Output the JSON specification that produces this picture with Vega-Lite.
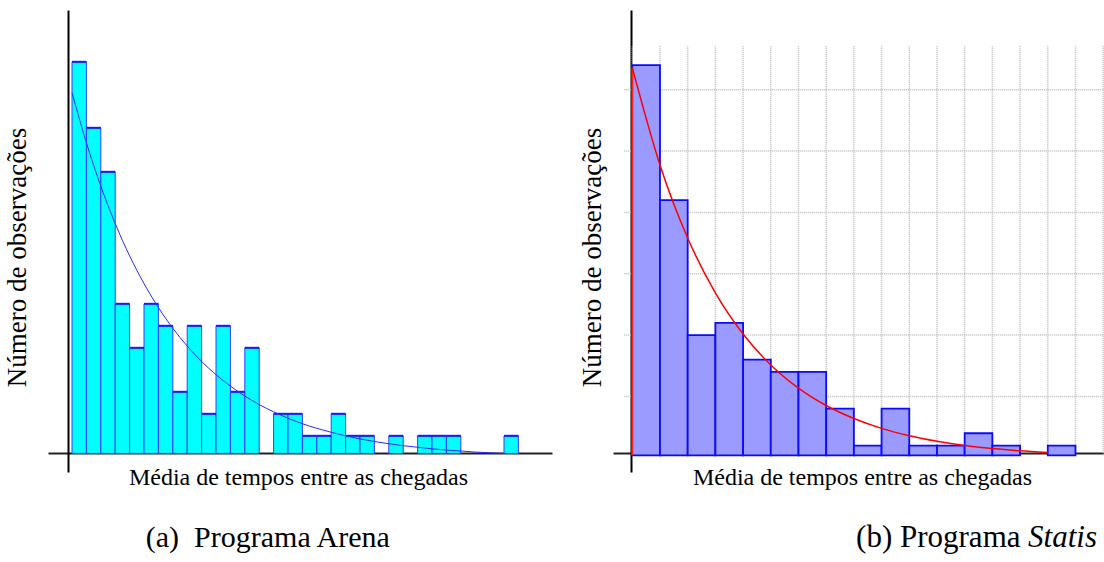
{
  "$schema": "https://vega.github.io/schema/vega-lite/v6.json",
  "background": "white",
  "padding": {"left": 3, "top": 10, "right": 0, "bottom": 0},
  "spacing": 61,
  "bounds": "flush",
  "config": {
    "view": {"stroke": null},
    "text": {"font": "Liberation Serif"}
  },
  "datasets": {
    "arena": [
      {"x0": 0, "x1": 1, "count": 18}, {"x0": 1, "x1": 2, "count": 15}, {"x0": 2, "x1": 3, "count": 13},
      {"x0": 3, "x1": 4, "count": 7}, {"x0": 4, "x1": 5, "count": 5}, {"x0": 5, "x1": 6, "count": 7},
      {"x0": 6, "x1": 7, "count": 6}, {"x0": 7, "x1": 8, "count": 3}, {"x0": 8, "x1": 9, "count": 6},
      {"x0": 9, "x1": 10, "count": 2}, {"x0": 10, "x1": 11, "count": 6}, {"x0": 11, "x1": 12, "count": 3},
      {"x0": 12, "x1": 13, "count": 5}, {"x0": 13, "x1": 14, "count": 0}, {"x0": 14, "x1": 15, "count": 2},
      {"x0": 15, "x1": 16, "count": 2}, {"x0": 16, "x1": 17, "count": 1}, {"x0": 17, "x1": 18, "count": 1},
      {"x0": 18, "x1": 19, "count": 2}, {"x0": 19, "x1": 20, "count": 1}, {"x0": 20, "x1": 21, "count": 1},
      {"x0": 21, "x1": 22, "count": 0}, {"x0": 22, "x1": 23, "count": 1}, {"x0": 23, "x1": 24, "count": 0},
      {"x0": 24, "x1": 25, "count": 1}, {"x0": 25, "x1": 26, "count": 1}, {"x0": 26, "x1": 27, "count": 1},
      {"x0": 27, "x1": 28, "count": 0}, {"x0": 28, "x1": 29, "count": 0}, {"x0": 29, "x1": 30, "count": 0},
      {"x0": 30, "x1": 31, "count": 1}
    ],
    "arenaFit": [
      {"n": 0, "c": 16.6}, {"n": 1, "c": 14.32}, {"n": 2, "c": 12.35}, {"n": 3, "c": 10.65},
      {"n": 4, "c": 9.18}, {"n": 5, "c": 7.92}, {"n": 6, "c": 6.83}, {"n": 7, "c": 5.89},
      {"n": 8, "c": 5.08}, {"n": 9, "c": 4.38}, {"n": 10, "c": 3.78}, {"n": 11, "c": 3.26},
      {"n": 12, "c": 2.81}, {"n": 13, "c": 2.42}, {"n": 14, "c": 2.09}, {"n": 15, "c": 1.8},
      {"n": 16, "c": 1.55}, {"n": 17, "c": 1.34}, {"n": 18, "c": 1.16}, {"n": 19, "c": 1.0},
      {"n": 20, "c": 0.86}, {"n": 21, "c": 0.74}, {"n": 22, "c": 0.64}, {"n": 23, "c": 0.55},
      {"n": 24, "c": 0.48}, {"n": 25, "c": 0.41}, {"n": 26, "c": 0.35}, {"n": 27, "c": 0.31},
      {"n": 28, "c": 0.26}, {"n": 29, "c": 0.23}, {"n": 30, "c": 0.2}
    ],
    "statis": [
      {"x0": 0, "x1": 1, "count": 32}, {"x0": 1, "x1": 2, "count": 21}, {"x0": 2, "x1": 3, "count": 10},
      {"x0": 3, "x1": 4, "count": 11}, {"x0": 4, "x1": 5, "count": 8}, {"x0": 5, "x1": 6, "count": 7},
      {"x0": 6, "x1": 7, "count": 7}, {"x0": 7, "x1": 8, "count": 4}, {"x0": 8, "x1": 9, "count": 1},
      {"x0": 9, "x1": 10, "count": 4}, {"x0": 10, "x1": 11, "count": 1}, {"x0": 11, "x1": 12, "count": 1},
      {"x0": 12, "x1": 13, "count": 2}, {"x0": 13, "x1": 14, "count": 1}, {"x0": 14, "x1": 15, "count": 0},
      {"x0": 15, "x1": 16, "count": 1}
    ],
    "statisFit": [
      {"n": 0, "c": 31.8}, {"n": 1, "c": 23.87}, {"n": 2, "c": 17.91}, {"n": 3, "c": 13.44},
      {"n": 4, "c": 10.09}, {"n": 5, "c": 7.57}, {"n": 6, "c": 5.68}, {"n": 7, "c": 4.26},
      {"n": 8, "c": 3.2}, {"n": 9, "c": 2.4}, {"n": 10, "c": 1.8}, {"n": 11, "c": 1.35},
      {"n": 12, "c": 1.01}, {"n": 13, "c": 0.76}, {"n": 14, "c": 0.57}, {"n": 15, "c": 0.43}
    ],
    "gridX": [
      {"v": 0}, {"v": 1}, {"v": 2}, {"v": 3}, {"v": 4}, {"v": 5}, {"v": 6}, {"v": 7}, {"v": 8},
      {"v": 9}, {"v": 10}, {"v": 11}, {"v": 12}, {"v": 13}, {"v": 14}, {"v": 15}, {"v": 16}, {"v": 17}
    ],
    "gridY": [{"v": 5}, {"v": 10}, {"v": 15}, {"v": 20}, {"v": 25}, {"v": 30}]
  },
  "hconcat": [
    {
      "width": 504,
      "height": 462,
      "layer": [
        {
          "data": {"name": "arena"},
          "transform": [{"filter": "datum.count > 0"}],
          "mark": {"type": "rect", "fill": "#00ffff", "stroke": "#3a3aff", "strokeWidth": 1},
          "encoding": {
            "x": {
              "field": "x0", "type": "quantitative",
              "scale": {"domain": [-1.667, 33.333], "nice": false, "zero": false},
              "axis": {
                "title": "Média de tempos entre as chegadas",
                "offset": -19,
                "ticks": false,
                "labels": false,
                "grid": false,
                "domainColor": "#222222",
                "domainWidth": 2,
                "titleFont": "Liberation Serif",
                "titleFontWeight": "normal",
                "titleColor": "#000000",
                "titleFontSize": 24,
                "titlePadding": 12,
                "titleX": 250
              }
            },
            "x2": {"field": "x1"},
            "y": {
              "field": "count", "type": "quantitative",
              "scale": {"domain": [-0.645, 20.355], "nice": false, "zero": false},
              "axis": {
                "title": "Número de observações",
                "offset": -20,
                "ticks": false,
                "labels": false,
                "grid": false,
                "domainColor": "#000000",
                "domainWidth": 2,
                "titleFont": "Liberation Serif",
                "titleFontWeight": "normal",
                "titleColor": "#000000",
                "titleFontSize": 27,
                "titlePadding": 37,
                "titleY": 247
              }
            },
            "y2": {"datum": 0.2}
          }
        },
        {
          "data": {"name": "arena"},
          "transform": [{"filter": "datum.count > 0"}],
          "mark": {"type": "rule", "stroke": "#1818ff", "strokeWidth": 2},
          "encoding": {
            "x": {"field": "x0", "type": "quantitative"},
            "x2": {"field": "x1"},
            "y": {"field": "count", "type": "quantitative"}
          }
        },
        {
          "data": {"name": "arenaFit"},
          "mark": {"type": "line", "stroke": "#2a2aff", "strokeWidth": 1, "interpolate": "monotone"},
          "encoding": {
            "x": {"field": "n", "type": "quantitative"},
            "y": {"field": "c", "type": "quantitative"}
          }
        },
        {
          "data": {"values": [{"label": "(a)\u00a0 Programa Arena"}]},
          "mark": {"type": "text", "font": "Liberation Serif", "fontSize": 30, "align": "center", "baseline": "alphabetic", "color": "#000000"},
          "encoding": {
            "x": {"datum": 13.6, "type": "quantitative"},
            "y": {"datum": -4.05, "type": "quantitative"},
            "text": {"field": "label"}
          }
        }
      ]
    },
    {
      "width": 491,
      "height": 462,
      "layer": [
        {
          "data": {"name": "gridY"},
          "mark": {"type": "rule", "stroke": "#bdbdbd", "strokeWidth": 1.5, "strokeDash": [1, 1]},
          "encoding": {
            "y": {
              "field": "v", "type": "quantitative",
              "scale": {"domain": [-1.157, 36.495], "nice": false, "zero": false},
              "axis": {
                "title": "Número de observações",
                "offset": -18,
                "ticks": false,
                "labels": false,
                "grid": false,
                "domainColor": "#000000",
                "domainWidth": 2,
                "titleFont": "Liberation Serif",
                "titleFontWeight": "normal",
                "titleColor": "#000000",
                "titleFontSize": 27,
                "titlePadding": 25,
                "titleY": 247
              }
            },
            "x": {
              "datum": -0.29, "type": "quantitative",
              "scale": {"domain": [-0.696, 17.03], "nice": false, "zero": false},
              "axis": {
                "title": "Média de tempos entre as chegadas",
                "offset": -19,
                "ticks": false,
                "labels": false,
                "grid": false,
                "domainColor": "#222222",
                "domainWidth": 2,
                "titleFont": "Liberation Serif",
                "titleFontWeight": "normal",
                "titleColor": "#000000",
                "titleFontSize": 24,
                "titlePadding": 12,
                "titleX": 249
              }
            },
            "x2": {"datum": 17.03}
          }
        },
        {
          "data": {"name": "gridX"},
          "mark": {"type": "rule", "stroke": "#bdbdbd", "strokeWidth": 1.5, "strokeDash": [1, 1]},
          "encoding": {
            "x": {"field": "v", "type": "quantitative"},
            "y": {"datum": 0.2, "type": "quantitative"},
            "y2": {"datum": 33.6}
          }
        },
        {
          "data": {"name": "statis"},
          "transform": [{"filter": "datum.count > 0"}],
          "mark": {"type": "rect", "fill": "#9a9aff", "stroke": "#0a0aff", "strokeWidth": 1.8},
          "encoding": {
            "x": {"field": "x0", "type": "quantitative"},
            "x2": {"field": "x1"},
            "y": {"field": "count", "type": "quantitative"},
            "y2": {"datum": 0.2}
          }
        },
        {
          "data": {"name": "statisFit"},
          "transform": [{"filter": "datum.n == 0"}],
          "mark": {"type": "rule", "stroke": "#ff2020", "strokeWidth": 1.5},
          "encoding": {
            "x": {"field": "n", "type": "quantitative"},
            "y": {"field": "c", "type": "quantitative"},
            "y2": {"datum": 0.2}
          }
        },
        {
          "data": {"name": "statisFit"},
          "mark": {"type": "line", "stroke": "#ff0000", "strokeWidth": 1.5, "interpolate": "monotone"},
          "encoding": {
            "x": {"field": "n", "type": "quantitative"},
            "y": {"field": "c", "type": "quantitative"}
          }
        },
        {
          "data": {"values": [{"label": "(b) Programa"}]},
          "mark": {"type": "text", "font": "Liberation Serif", "fontSize": 31, "align": "left", "baseline": "alphabetic", "color": "#000000"},
          "encoding": {
            "x": {"datum": 8.08, "type": "quantitative"},
            "y": {"datum": -7.27, "type": "quantitative"},
            "text": {"field": "label"}
          }
        },
        {
          "data": {"values": [{"label": "Statis"}]},
          "mark": {"type": "text", "font": "Liberation Serif", "fontSize": 31, "fontStyle": "italic", "align": "left", "baseline": "alphabetic", "color": "#000000"},
          "encoding": {
            "x": {"datum": 14.29, "type": "quantitative"},
            "y": {"datum": -7.27, "type": "quantitative"},
            "text": {"field": "label"}
          }
        }
      ]
    }
  ]
}
